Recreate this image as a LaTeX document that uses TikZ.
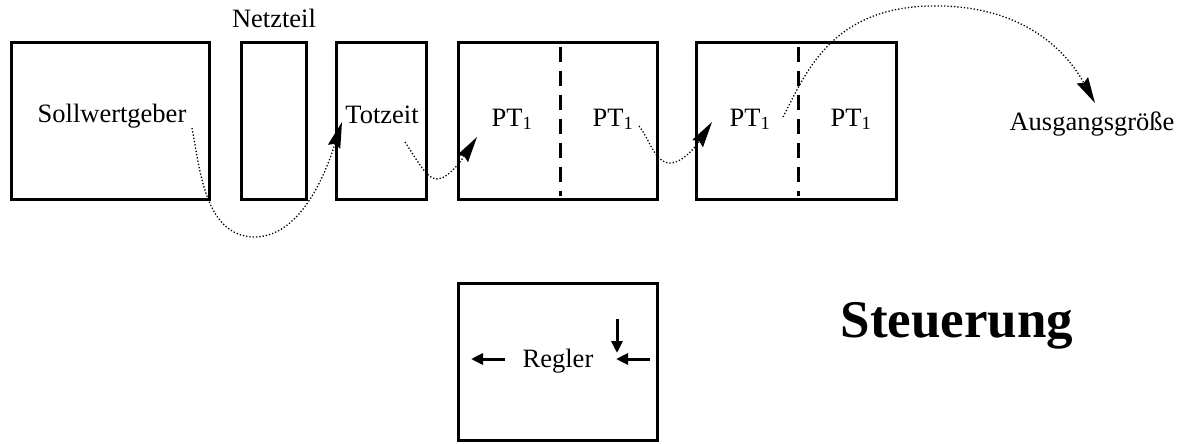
\documentclass[tikz,border=0pt]{standalone}
\usepackage{fontspec}
\setmainfont{Liberation Serif}
\usetikzlibrary{arrows.meta}
\begin{document}
\begin{tikzpicture}[x=1pt,y=-1pt,
  blk/.style={draw,line width=3pt,inner sep=0pt,outer sep=0pt},
  lbl/.style={font=\fontsize{26.5}{30}\selectfont,inner sep=0pt,anchor=base},
  sep/.style={line width=3pt,dash pattern=on 15pt off 9pt},
  flow/.style={line width=1.3pt,dotted,-{Stealth[length=26pt,width=13pt,inset=3pt,line width=0pt]}},
  sig/.style={line width=3pt,-{Triangle[length=12pt,width=11pt]}}]
\useasboundingbox (0,0) rectangle (1184,444);
% boxes
\node[blk,minimum width=198pt,minimum height=157pt] (b1) at (110,121) {};
\node[blk,minimum width=65pt,minimum height=157pt] (b2) at (274,121) {};
\node[blk,minimum width=90pt,minimum height=157pt] (b3) at (381.5,121) {};
\node[blk,minimum width=199pt,minimum height=157pt] (b4) at (558,121) {};
\node[blk,minimum width=200pt,minimum height=157pt] (b5) at (796.5,121) {};
\node[blk,minimum width=199pt,minimum height=157pt] (rb) at (558,362) {};
% dashed separators
\coordinate (s4a) at (560,47); \coordinate (s4b) at (560,196);
\coordinate (s5a) at (798,47); \coordinate (s5b) at (798,196);
\draw[sep] (s4a) -- (s4b);
\draw[sep] (s5a) -- (s5b);
% labels
\node[lbl] (tnetz) at (274,28) {Netzteil};
\node[lbl] (tsoll) at (112,122) {Sollwertgeber};
\node[lbl] (ttot) at (382,124) {Totzeit};
\node[lbl] (tp1) at (512,126) {PT\textsubscript{1}};
\node[lbl] (tp2) at (613,126) {PT\textsubscript{1}};
\node[lbl] (tp3) at (750,126) {PT\textsubscript{1}};
\node[lbl] (tp4) at (851,126) {PT\textsubscript{1}};
\node[lbl] (taus) at (1092,130) {Ausgangsgröße};
\node[lbl] (treg) at (558,367) {Regler};
\node[font=\fontsize{53}{60}\selectfont\bfseries,inner sep=0pt,anchor=base] (tst) at (957,337) {Steuerung};
% flow curves
\coordinate (c1s) at (192,128); \coordinate (c1e) at (342,122);
\coordinate (c2s) at (405,142); \coordinate (c2e) at (477,137);
\coordinate (c3s) at (639,126); \coordinate (c3e) at (712,122);
\coordinate (c4s) at (783,117); \coordinate (c4e) at (1095,103);
\draw[flow] (c1s) .. controls (200,170) and (205,235) .. (253,237) .. controls (300,238) and (325,175) .. (c1e);
\draw[flow] (c2s) .. controls (420,165) and (428,180) .. (438,179) .. controls (450,178) and (465,155) .. (c2e);
\draw[flow] (c3s) .. controls (650,140) and (655,163) .. (670,163) .. controls (685,163) and (700,140) .. (c3e);
\draw[flow] (c4s) .. controls (805,75) and (830,8) .. (930,6) .. controls (1010,4) and (1060,40) .. (c4e);
% Regler signal arrows
\coordinate (a1s) at (505,359); \coordinate (a1e) at (471,359);
\coordinate (a2s) at (650,359); \coordinate (a2e) at (616,359);
\coordinate (a3s) at (617,319); \coordinate (a3e) at (617,353);
\draw[sig] (a1s) -- (a1e);
\draw[sig] (a2s) -- (a2e);
\draw[sig] (a3s) -- (a3e);
\end{tikzpicture}
\end{document}
